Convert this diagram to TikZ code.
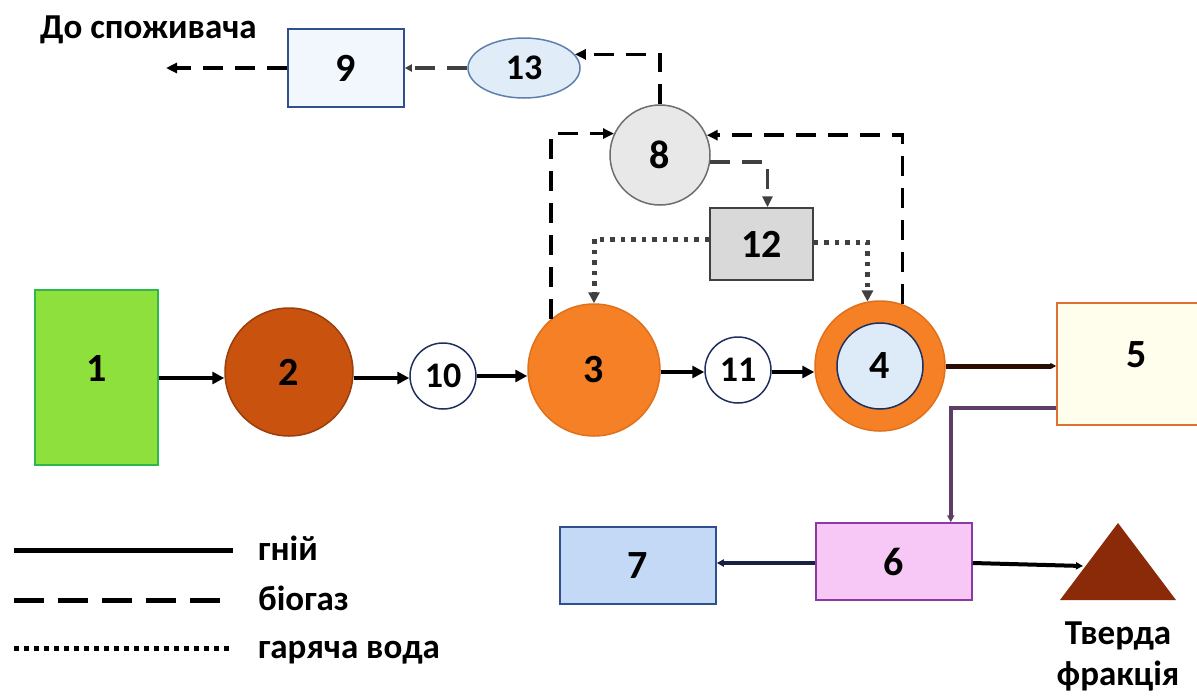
\documentclass[tikz,border=0pt]{standalone}
\usepackage{fontspec}
\setmainfont{Carlito}
\usetikzlibrary{arrows.meta,shapes.geometric}
\definecolor{cGreen}{HTML}{8EE03C}
\definecolor{cGreenB}{HTML}{2DB84B}
\definecolor{cDkOr}{HTML}{C9520F}
\definecolor{cDkOrB}{HTML}{9A3E0C}
\definecolor{cOr}{HTML}{F58025}
\definecolor{cOrB}{HTML}{E0701A}
\definecolor{cLtBlue}{HTML}{DDEBF8}
\definecolor{cNavy}{HTML}{1F2F5F}
\definecolor{cCream}{HTML}{FFFDEB}
\definecolor{cCreamB}{HTML}{E07030}
\definecolor{cPink}{HTML}{F7C8F5}
\definecolor{cPinkB}{HTML}{8A3AA0}
\definecolor{cBlue7}{HTML}{C3D9F5}
\definecolor{cBlueB}{HTML}{2F4F8F}
\definecolor{cBrown}{HTML}{8B2A08}
\definecolor{cNine}{HTML}{F2F7FD}
\definecolor{cThirteen}{HTML}{E0ECF8}
\definecolor{cThirteenB}{HTML}{5F7FAF}
\definecolor{cGrayL}{HTML}{E8E8E8}
\definecolor{cGrayM}{HTML}{D9D9D9}
\definecolor{cGrayB}{HTML}{6E6E6E}
\definecolor{cDkGray}{HTML}{404040}
\begin{document}
\begin{tikzpicture}[x=1pt,y=-1pt,
  num/.style={font=\fontsize{40}{44}\selectfont\bfseries, text=black},
  lbl/.style={font=\fontsize{35}{38}\selectfont\bfseries, text=black, inner sep=0pt},
  boxn/.style={num, rectangle, line width=1.5pt, inner sep=0pt},
  circn/.style={num, circle, line width=1.5pt, inner sep=0pt},
  tipA/.style={-{Triangle[length=12pt,width=12pt]}},
  manure/.style={tipA, line width=4pt, black},
  gas/.style={-{Triangle[length=11pt,width=10pt]}, line width=3.5pt, black, dash pattern=on 20pt off 12pt},
  water/.style={-{Triangle[length=11pt,width=11pt]}, line width=5pt, cDkGray, dash pattern=on 4.5pt off 6pt}
]
\useasboundingbox (0,0) rectangle (1197,697);

% main row
\node[boxn, fill=cGreen, draw=cGreenB, minimum width=123pt, minimum height=175pt, text depth=18pt] (n1) at (96.5,377.5) {1};
\node[circn, fill=cDkOr, draw=cDkOrB, minimum size=128pt] (n2) at (289,372) {2};
\node[circn, fill=white, draw=cNavy, minimum size=66pt, font=\fontsize{36}{40}\selectfont\bfseries] (n10) at (443,376) {10};
\node[circn, fill=cOr, draw=cOrB, minimum size=132pt] (n3) at (594,370) {3};
\node[circn, fill=white, draw=cNavy, minimum size=66pt, font=\fontsize{36}{40}\selectfont\bfseries] (n11) at (738,370) {11};
\node[circn, fill=cOr, draw=cOrB, minimum size=130pt] (n4) at (880,366) {};
\node[circn, fill=cLtBlue, draw=cNavy, minimum size=86pt] (n4i) at (880,366) {4};
\node[boxn, fill=cCream, draw=cCreamB, minimum width=160pt, minimum height=122pt, text depth=18pt] (n5) at (1137,364) {5};
\node[boxn, fill=cPink, draw=cPinkB, minimum width=156pt, minimum height=77pt] (n6) at (894,561.5) {6};
\node[boxn, fill=cBlue7, draw=cBlueB, minimum width=156pt, minimum height=77pt] (n7) at (638,565.5) {7};

% top part
\node[boxn, fill=cNine, draw=cBlueB, minimum width=116pt, minimum height=78pt] (n9) at (346,68) {9};
\node[num, ellipse, fill=cThirteen, draw=cThirteenB, line width=1.5pt, minimum width=112pt, minimum height=60pt, inner sep=0pt, font=\fontsize{36}{40}\selectfont\bfseries] (n13) at (524,68) {13};
\node[circn, fill=cGrayL, draw=cGrayB, minimum size=100pt] (n8) at (660,155) {8};
\node[boxn, fill=cGrayM, draw=cDkGray, minimum width=103pt, minimum height=72pt] (n12) at (761.5,244) {12};

\node[lbl, anchor=west] (cons) at (40,30) {До споживача};
\coordinate (consarrow) at (166,68);

% triangle (solid fraction)
\fill[cBrown] (1060,600) -- (1118,523) -- (1176,600) -- cycle;
\coordinate (tri) at (1083,566);
\node[lbl, align=center, font=\fontsize{35}{41}\selectfont\bfseries] (tverda) at (1118,656) {Тверда\\фракція};

% manure connectors
\draw[manure] (n1.east |- 0,378) -- (n2.west |- 0,378);
\draw[manure] (n2.east |- 0,378) -- (n10.west |- 0,378);
\draw[manure] (n10.east |- 0,376) -- (n3.west |- 0,376);
\draw[manure] (n3.east |- 0,372) -- (n11.west |- 0,372);
\draw[manure] (n11.east |- 0,372) -- (n4.west |- 0,372);
\draw[manure, line width=5pt, color=black!70!cBrown, -{Triangle[length=6pt,width=6pt]}] (n4.east) -- (n4.east -| n5.west);
\draw[manure, color=cDkGray!60!cPinkB, -{Triangle[length=7pt,width=7pt]}] ([yshift=18pt]n5.south west) -| ([xshift=-22pt]n6.north east);
\draw[manure, color=cNavy!70!black, -{Triangle[length=7pt,width=7pt]}] (n6.west |- 0,563) -- (n7.east |- 0,563);
\draw[manure, -{Triangle[length=7pt,width=7pt]}] (n6.east |- 0,563) -- (tri);

% biogas connectors
\draw[gas] (n3.130) |- (n8.155);
\draw[gas] (n4.70) |- (n8.23);
\draw[gas] (n8.north) |- (n13.15);
\draw[gas, color=cDkGray, -{Triangle[length=7pt,width=7pt]}] (n13.west) -- (n9.east);
\draw[gas] (n9.west) -- (consarrow);
\draw[gas, color=cDkGray] (n8.-8) -| ([xshift=6pt]n12.north);

% hot water connectors
\draw[water] (n12.west |- 0,239) -| (n3.north);
\draw[water] (n12.east |- 0,242) -| (n4.101);

% legend
\coordinate (lg1a) at (14,550); \coordinate (lg1b) at (233,550);
\coordinate (lg2a) at (14,600); \coordinate (lg2b) at (233,600);
\coordinate (lg3a) at (14,648); \coordinate (lg3b) at (233,648);
\draw[line width=5pt, black] (lg1a) -- (lg1b);
\draw[line width=5pt, black, dash pattern=on 30pt off 14pt] (lg2a) -- (lg2b);
\draw[line width=5pt, black, dash pattern=on 4.5pt off 5.5pt] (lg3a) -- (lg3b);
\node[lbl, anchor=base west] (lgt1) at (258,560) {гній};
\node[lbl, anchor=base west] (lgt2) at (258,610) {біогаз};
\node[lbl, anchor=base west] (lgt3) at (258,658) {гаряча вода};
\end{tikzpicture}
\end{document}
